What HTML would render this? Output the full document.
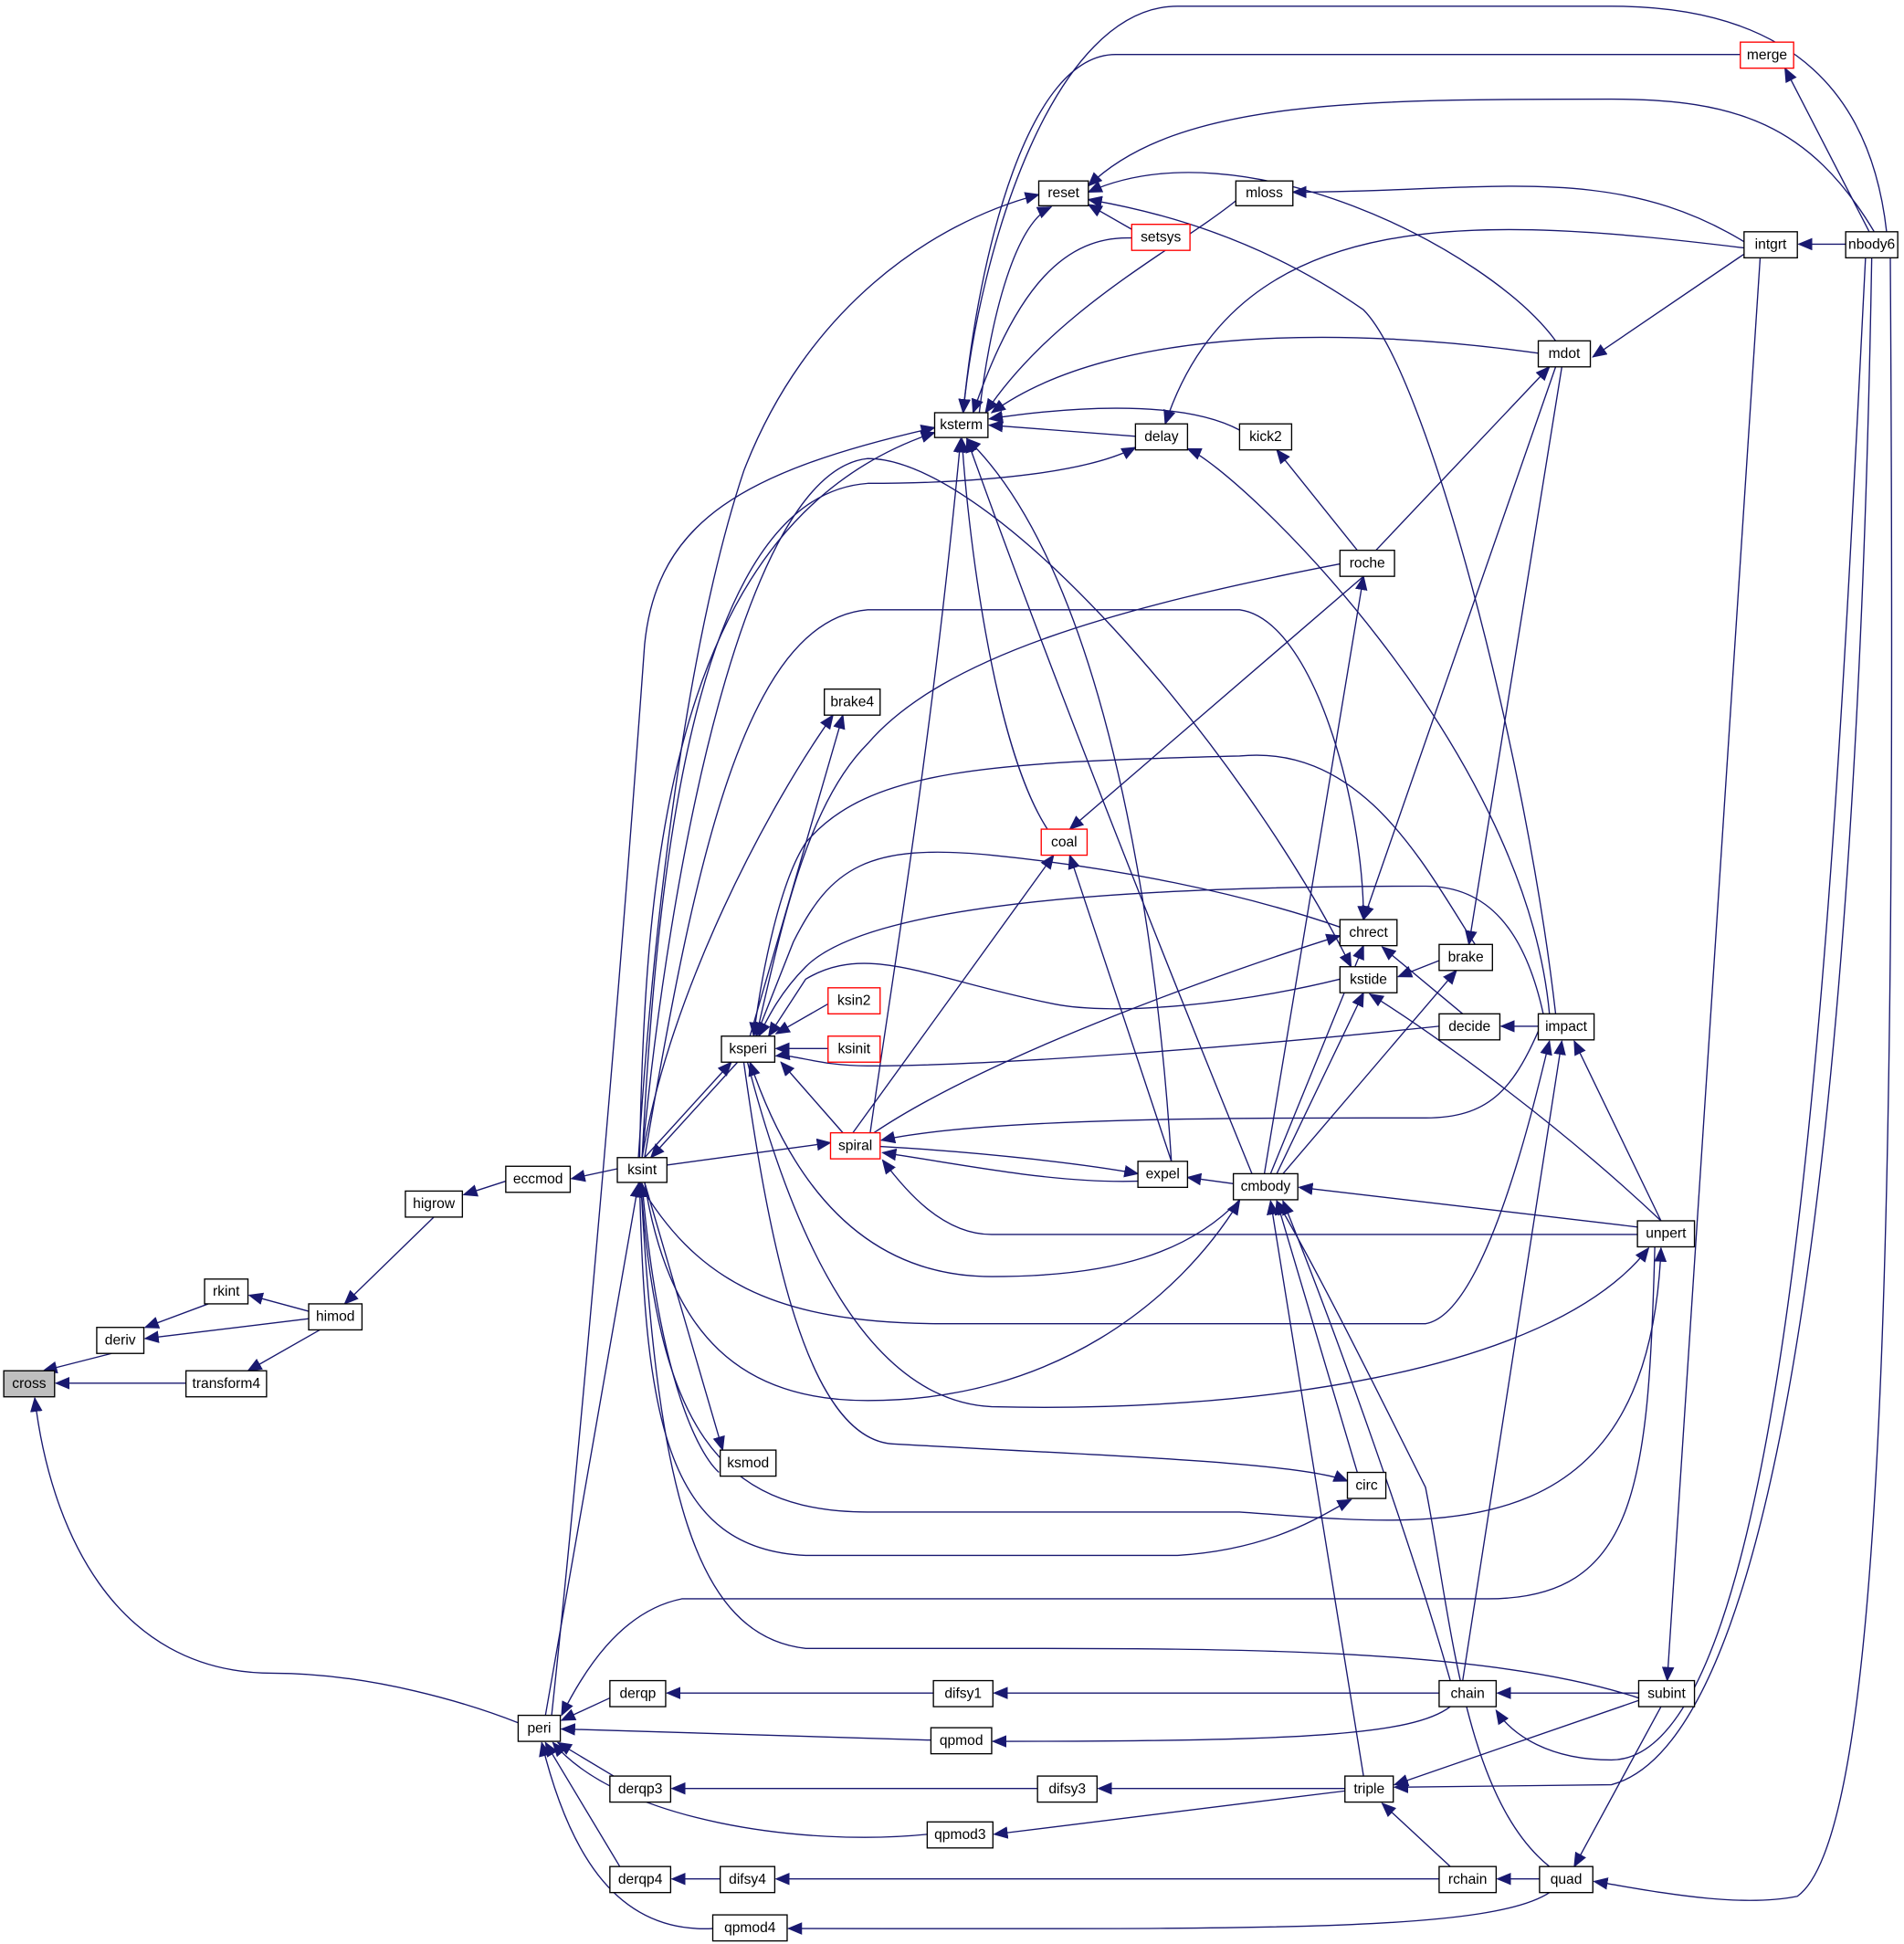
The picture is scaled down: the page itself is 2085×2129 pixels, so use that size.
<!DOCTYPE html>
<html><head><meta charset="utf-8"><style>
html,body{margin:0;padding:0;background:#fff;}
svg{display:block}
text{font-family:"Liberation Sans",sans-serif;font-size:11.5px;text-anchor:middle;dominant-baseline:central;fill:#000}
.e{fill:none;stroke:#191970;stroke-width:1;marker-end:url(#a)}
.n{fill:#fff;stroke:#000;stroke-width:1}
.r{fill:#fff;stroke:#f00;stroke-width:1}
</style></head><body>
<svg width="2085" height="2129" viewBox="0 0 1536 1568.5" xmlns="http://www.w3.org/2000/svg">
<defs><marker id="a" markerWidth="12" markerHeight="10" refX="11" refY="5" orient="auto" markerUnits="userSpaceOnUse"><path d="M0,0 L12,5 L0,10 z" fill="#191970"/></marker></defs>
<g>
<path class="e" d="M90,1092 L35,1106"/>
<path class="e" d="M150,1116 L45,1116"/>
<path class="e" d="M418,1390 C380,1375 300,1350 220,1350 C90,1350 40,1230 28,1128"/>
<path class="e" d="M168,1052 L117,1071"/>
<path class="e" d="M249,1064 L117,1080"/>
<path class="e" d="M249,1058 L201,1045"/>
<path class="e" d="M258,1073 L200,1106"/>
<path class="e" d="M350,982 L278,1052"/>
<path class="e" d="M408,953 L374,964"/>
<path class="e" d="M498,943 L461,951"/>
<path class="e" d="M520,934 L590,857"/>
<path class="e" d="M595,857 L525,934"/>
<path class="e" d="M520,954 L583,1170"/>
<path class="e" d="M580,1188 C560,1170 530,1100 518,955"/>
<path class="e" d="M538,940 L670,922"/>
<path class="e" d="M518,934 C540,800 620,650 672,577"/>
<path class="e" d="M605,836 L680,577"/>
<path class="e" d="M668,810 L626,834"/>
<path class="e" d="M668,846 L626,846"/>
<path class="e" d="M680,914 L630,857"/>
<path class="e" d="M702,914 C718,800 752,600 775,354"/>
<path class="e" d="M688,914 L850,690"/>
<path class="e" d="M705,914 C800,850 1000,780 1081,755"/>
<path class="e" d="M710,925 C800,930 880,940 918,947"/>
<path class="e" d="M918,953 C850,955 780,940 712,930"/>
<path class="e" d="M1241,832 C1220,880 1200,902 1150,902 C1050,902 800,900 711,920"/>
<path class="e" d="M845,669 C800,600 780,420 776,354"/>
<path class="e" d="M945,937 L863,690"/>
<path class="e" d="M945,937 C930,700 880,450 780,354"/>
<path class="e" d="M995,955 L958,950"/>
<path class="e" d="M1010,947 C950,800 850,550 780,354"/>
<path class="e" d="M1321,996 C1200,996 900,996 800,996 C760,996 730,960 712,936"/>
<path class="e" d="M1000,968 C960,1010 900,1030 800,1030 C700,1030 640,960 605,857"/>
<path class="e" d="M1020,947 L1100,465"/>
<path class="e" d="M1025,947 L1100,763"/>
<path class="e" d="M1030,947 L1100,801"/>
<path class="e" d="M1035,947 L1175,783"/>
<path class="e" d="M1321,990 L1048,958"/>
<path class="e" d="M1095,1188 L1030,969"/>
<path class="e" d="M1170,1356 C1140,1250 1080,1080 1035,969"/>
<path class="e" d="M1100,1433 L1025,969"/>
<path class="e" d="M1250,1506 C1180,1450 1170,1300 1150,1200 C1100,1100 1060,1020 1030,969"/>
<path class="e" d="M520,954 C540,1080 600,1130 700,1130 C850,1130 950,1050 1000,969"/>
<path class="e" d="M515,954 C560,1030 620,1068 760,1068 L1150,1068 C1200,1060 1240,880 1250,840"/>
<path class="e" d="M517,954 C530,1150 580,1220 700,1220 L1000,1220 C1150,1230 1330,1260 1340,1007"/>
<path class="e" d="M603,857 C640,1000 700,1130 800,1135 C1000,1140 1250,1110 1330,1007"/>
<path class="e" d="M600,857 C620,1000 650,1160 720,1165 C900,1175 1050,1180 1087,1195"/>
<path class="e" d="M516,954 C520,1150 540,1250 650,1255 L950,1255 C1030,1250 1070,1220 1090,1210"/>
<path class="e" d="M1322,1370 C1200,1330 1000,1330 800,1330 L650,1330 C560,1320 530,1200 517,955"/>
<path class="e" d="M440,1384 L515,955"/>
<path class="e" d="M445,1384 C470,1150 500,800 520,520 C530,420 600,380 754,345"/>
<path class="e" d="M515,934 C530,700 560,500 600,380 C650,250 750,180 838,157"/>
<path class="e" d="M516,934 C520,700 540,420 754,349"/>
<path class="e" d="M518,934 C530,700 560,400 700,390 C800,390 880,380 916,361"/>
<path class="e" d="M518,934 C540,700 600,380 700,370 C800,370 1000,600 1090,780"/>
<path class="e" d="M520,934 C560,700 600,500 700,492 L1000,492 C1060,500 1100,650 1100,742"/>
<path class="e" d="M1081,455 C900,490 760,530 700,600 C650,650 630,750 610,836"/>
<path class="e" d="M1100,465 L863,669"/>
<path class="e" d="M1190,762 C1150,700 1100,600 1000,610 C800,615 700,620 650,680 C630,710 615,780 608,836"/>
<path class="e" d="M1081,748 C1000,720 900,700 800,690 C700,680 670,700 640,760 L610,836"/>
<path class="e" d="M1245,818 C1230,750 1200,715 1150,715 C900,715 700,730 650,780 C630,800 620,820 612,836"/>
<path class="e" d="M1081,790 C1000,810 900,820 850,810 C750,790 700,760 650,790 L620,836"/>
<path class="e" d="M1161,828 C1000,845 800,860 700,860 C660,860 640,850 626,852"/>
<path class="e" d="M790,333 C800,250 820,180 848,167"/>
<path class="e" d="M913,192 C860,190 820,230 785,333"/>
<path class="e" d="M997,162 C950,200 850,250 795,333"/>
<path class="e" d="M916,352 L798,343"/>
<path class="e" d="M1000,347 C950,320 850,330 798,338"/>
<path class="e" d="M1241,285 C1100,265 900,260 800,333"/>
<path class="e" d="M1404,44 L900,44 C830,44 790,200 777,333"/>
<path class="e" d="M1522,187 C1510,80 1450,5 1300,5 L950,5 C850,5 790,200 777,333"/>
<path class="e" d="M1512,187 C1460,100 1400,80 1300,80 C1100,80 950,80 878,150"/>
<path class="e" d="M1255,275 C1200,200 1000,100 878,155"/>
<path class="e" d="M1255,818 C1230,600 1150,300 1100,250 C1000,180 900,165 878,161"/>
<path class="e" d="M913,185 L878,165"/>
<path class="e" d="M1407,195 C1300,130 1200,155 1043,155"/>
<path class="e" d="M1407,200 C1200,175 1000,160 940,342"/>
<path class="e" d="M1250,818 C1230,600 1000,380 958,362"/>
<path class="e" d="M1095,444 L1030,363"/>
<path class="e" d="M1508,187 L1440,55"/>
<path class="e" d="M1110,444 L1250,296"/>
<path class="e" d="M1407,205 L1285,288"/>
<path class="e" d="M1489,197 L1451,197"/>
<path class="e" d="M1255,296 L1100,742"/>
<path class="e" d="M1260,296 L1185,762"/>
<path class="e" d="M1420,208 L1345,1356"/>
<path class="e" d="M1505,208 C1480,700 1450,1420 1300,1420 C1250,1420 1220,1400 1207,1380"/>
<path class="e" d="M1510,208 C1500,800 1450,1400 1300,1440 L1125,1442"/>
<path class="e" d="M1525,208 C1530,1000 1520,1480 1450,1530 C1400,1540 1330,1525 1286,1518"/>
<path class="e" d="M1241,828 L1211,828"/>
<path class="e" d="M1161,775 L1128,788"/>
<path class="e" d="M1180,818 L1115,764"/>
<path class="e" d="M1340,985 C1250,900 1150,830 1105,802"/>
<path class="e" d="M1340,985 L1270,840"/>
<path class="e" d="M1180,1356 L1260,840"/>
<path class="e" d="M1322,1366 L1208,1366"/>
<path class="e" d="M1340,1377 L1270,1506"/>
<path class="e" d="M1322,1372 L1125,1440"/>
<path class="e" d="M1170,1506 L1115,1455"/>
<path class="e" d="M1242,1516 L1208,1516"/>
<path class="e" d="M1161,1366 L802,1366"/>
<path class="e" d="M1170,1377 C1140,1400 1050,1405 801,1405"/>
<path class="e" d="M1085,1443 L886,1443"/>
<path class="e" d="M1085,1445 L802,1480"/>
<path class="e" d="M1161,1516 L626,1516"/>
<path class="e" d="M1250,1527 C1200,1560 1000,1556 636,1556"/>
<path class="e" d="M753,1366 L538,1366"/>
<path class="e" d="M837,1443 L542,1443"/>
<path class="e" d="M581,1516 L542,1516"/>
<path class="e" d="M492,1370 L453,1388"/>
<path class="e" d="M751,1404 L453,1395"/>
<path class="e" d="M495,1433 L450,1406"/>
<path class="e" d="M748,1480 C650,1490 500,1470 446,1406"/>
<path class="e" d="M500,1506 L440,1406"/>
<path class="e" d="M575,1556 C500,1560 460,1500 437,1406"/>
<path class="e" d="M1335,1006 C1330,1200 1320,1290 1200,1290 L550,1290 C500,1300 470,1350 453,1384"/>
</g>
<g>
<rect x="3" y="1106" width="41" height="21" fill="#bfbfbf" stroke="#000"/><text x="23.5" y="1116.5">cross</text>
<rect class="n" x="78" y="1071" width="38" height="21"/><text x="97" y="1081.5">deriv</text>
<rect class="n" x="165" y="1032" width="35" height="20"/><text x="182.5" y="1042">rkint</text>
<rect class="n" x="249" y="1052" width="43" height="21"/><text x="270.5" y="1062.5">himod</text>
<rect class="n" x="150" y="1106" width="65" height="21"/><text x="182.5" y="1116.5">transform4</text>
<rect class="n" x="327" y="961" width="46" height="21"/><text x="350" y="971.5">higrow</text>
<rect class="n" x="408" y="941" width="52" height="21"/><text x="434" y="951.5">eccmod</text>
<rect class="n" x="498" y="934" width="40" height="20"/><text x="518" y="944">ksint</text>
<rect class="n" x="581" y="1170" width="45" height="21"/><text x="603.5" y="1180.5">ksmod</text>
<rect class="n" x="665" y="556" width="45" height="21"/><text x="687.5" y="566.5">brake4</text>
<rect class="n" x="582" y="836" width="43" height="21"/><text x="603.5" y="846.5">ksperi</text>
<rect class="r" x="668" y="797" width="42" height="21"/><text x="689" y="807.5">ksin2</text>
<rect class="r" x="668" y="836" width="42" height="21"/><text x="689" y="846.5">ksinit</text>
<rect class="r" x="670" y="914" width="40" height="21"/><text x="690" y="924.5">spiral</text>
<rect class="r" x="840" y="669" width="37" height="21"/><text x="858.5" y="679.5">coal</text>
<rect class="n" x="754" y="333" width="43" height="20"/><text x="775.5" y="343">ksterm</text>
<rect class="n" x="838" y="146" width="40" height="20"/><text x="858" y="156">reset</text>
<rect class="r" x="913" y="181" width="47" height="21"/><text x="936.5" y="191.5">setsys</text>
<rect class="n" x="997" y="146" width="46" height="20"/><text x="1020" y="156">mloss</text>
<rect class="n" x="916" y="342" width="42" height="21"/><text x="937" y="352.5">delay</text>
<rect class="n" x="1000" y="342" width="42" height="21"/><text x="1021" y="352.5">kick2</text>
<rect class="n" x="1081" y="444" width="44" height="21"/><text x="1103" y="454.5">roche</text>
<rect class="n" x="1241" y="275" width="42" height="21"/><text x="1262" y="285.5">mdot</text>
<rect class="r" x="1404" y="34" width="43" height="21"/><text x="1425.5" y="44.5">merge</text>
<rect class="n" x="1407" y="187" width="43" height="21"/><text x="1428.5" y="197.5">intgrt</text>
<rect class="n" x="1489" y="187" width="42" height="21"/><text x="1510" y="197.5">nbody6</text>
<rect class="n" x="918" y="937" width="40" height="21"/><text x="938" y="947.5">expel</text>
<rect class="n" x="995" y="947" width="52" height="21"/><text x="1021" y="957.5">cmbody</text>
<rect class="n" x="1081" y="742" width="46" height="21"/><text x="1104" y="752.5">chrect</text>
<rect class="n" x="1081" y="780" width="46" height="21"/><text x="1104" y="790.5">kstide</text>
<rect class="n" x="1161" y="762" width="43" height="21"/><text x="1182.5" y="772.5">brake</text>
<rect class="n" x="1161" y="818" width="49" height="21"/><text x="1185.5" y="828.5">decide</text>
<rect class="n" x="1241" y="818" width="45" height="21"/><text x="1263.5" y="828.5">impact</text>
<rect class="n" x="1321" y="985" width="46" height="21"/><text x="1344" y="995.5">unpert</text>
<rect class="n" x="1087" y="1188" width="31" height="21"/><text x="1102.5" y="1198.5">circ</text>
<rect class="n" x="418" y="1384" width="34" height="21"/><text x="435" y="1394.5">peri</text>
<rect class="n" x="492" y="1356" width="45" height="21"/><text x="514.5" y="1366.5">derqp</text>
<rect class="n" x="492" y="1433" width="49" height="21"/><text x="516.5" y="1443.5">derqp3</text>
<rect class="n" x="492" y="1506" width="49" height="21"/><text x="516.5" y="1516.5">derqp4</text>
<rect class="n" x="753" y="1356" width="48" height="21"/><text x="777" y="1366.5">difsy1</text>
<rect class="n" x="751" y="1394" width="49" height="21"/><text x="775.5" y="1404.5">qpmod</text>
<rect class="n" x="837" y="1433" width="48" height="21"/><text x="861" y="1443.5">difsy3</text>
<rect class="n" x="748" y="1470" width="53" height="21"/><text x="774.5" y="1480.5">qpmod3</text>
<rect class="n" x="581" y="1506" width="44" height="21"/><text x="603" y="1516.5">difsy4</text>
<rect class="n" x="575" y="1545" width="60" height="21"/><text x="605" y="1555.5">qpmod4</text>
<rect class="n" x="1161" y="1356" width="46" height="21"/><text x="1184" y="1366.5">chain</text>
<rect class="n" x="1322" y="1356" width="45" height="21"/><text x="1344.5" y="1366.5">subint</text>
<rect class="n" x="1085" y="1433" width="39" height="21"/><text x="1104.5" y="1443.5">triple</text>
<rect class="n" x="1161" y="1506" width="46" height="21"/><text x="1184" y="1516.5">rchain</text>
<rect class="n" x="1242" y="1506" width="43" height="21"/><text x="1263.5" y="1516.5">quad</text>
</g>
</svg>
</body></html>
